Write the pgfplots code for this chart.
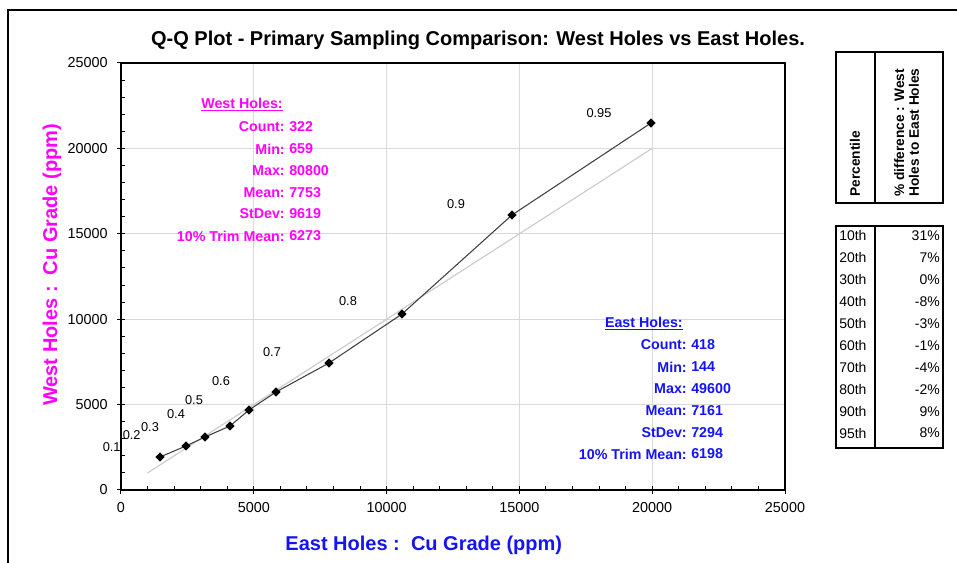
\documentclass[border=0pt]{standalone}
\usepackage{pgfplots}
\pgfplotsset{compat=1.18}
\usepackage{fontspec}
\setmainfont{Liberation Sans}
\definecolor{mag}{RGB}{255,0,255}
\definecolor{blu}{RGB}{20,20,245}
\definecolor{gridgray}{RGB}{217,217,217}
\definecolor{lineg}{RGB}{64,64,64}
\definecolor{oneone}{RGB}{205,205,205}
\newcommand{\statfont}{\fontsize{10.7}{12}\selectfont\bfseries}
\begin{document}
\begin{tikzpicture}
\begin{axis}[
  at={(0,0)}, anchor=south west,
  scale only axis, width=498pt, height=320.25pt,
  xmin=0, xmax=25000, ymin=0, ymax=25000,
  xtick={0,5000,...,25000}, ytick={0,5000,...,25000},
  xtick pos=bottom, ytick pos=left,
  minor tick num=4,
  scaled ticks=false,
  /pgf/number format/1000 sep={},
  /pgf/number format/assume math mode=true,
  tick label style={font=\fontsize{10.8}{13}\selectfont},
  xticklabel style={yshift=-3pt},
  yticklabel style={xshift=-3.5pt},
  grid=major, major grid style={gridgray, line width=0.75pt},
  axis line style={black, line width=0.9pt},
  tick style={black, line width=0.75pt},
  tick align=center, major tick length=6pt, minor tick length=3pt,
  minor x tick style={yshift=1.5pt}, minor y tick style={xshift=1.5pt},
  clip=false,
  title={Q-Q Plot - Primary Sampling Comparison: West Holes vs East Holes.},
  title style={at={(axis description cs:0.5377,1.0585)}, anchor=center, yshift=-7.5pt, font=\fontsize{15}{17}\selectfont\bfseries},
  xlabel={East Holes :\ \ Cu Grade (ppm)},
  xlabel style={at={(axis description cs:0.456,-0.1288)}, anchor=center, text=blu, font=\fontsize{15}{17}\selectfont\bfseries},
  ylabel={West Holes :\ \ Cu Grade (ppm)},
  ylabel style={at={(axis description cs:-0.1039,0.527)}, anchor=center, text=mag, font=\fontsize{15}{17}\selectfont\bfseries},
]
\addplot[oneone, line width=0.9pt] coordinates {(1000,1000) (20000,20000)};
\addplot[lineg, line width=0.8pt, mark=square*, mark size=2.1pt,
  mark options={rotate=45, fill=black, draw=black, solid}] coordinates {
  (1468,1932) (2447,2576) (3163,3103) (4104,3747) (4819,4684)
  (5836,5738) (7831,7436) (10580,10304) (14721,16101) (19955,21487)};
\addplot[draw=none, mark=none, nodes near coords, point meta=explicit symbolic,
  every node near coord/.append style={anchor=center, text=black, font=\fontsize{9.6}{11}\selectfont}]
  table[meta=lab] {
  x y lab
  -350 2535 0.1
  402 3220 0.2
  1092 3706 0.3
  2070 4450 0.4
  2748 5270 0.5
  3765 6382 0.6
  5685 8080 0.7
  8547 11066 0.8
  12613 16745 0.9
  17997 22073 0.95
};
\end{axis}
\begin{scope}[x=0.75pt, y=-0.75pt, shift={(-90.75pt,367.5pt)}]
  \draw[line width=1.6pt] (8,10) rectangle (1100,800);
  % West stats
  \node[anchor=east, inner sep=0, text=mag, font=\statfont] at (283,105) {\underline{West Holes:}};
  \foreach \yy/\aa/\bb in {127/Count:/322, 149/Min:/659, 171/Max:/80800, 193/Mean:/7753, 214/StDev:/9619, 236/{10\% Trim Mean:}/6273} {
    \node[anchor=east, inner sep=0, text=mag, font=\statfont] at (285,\yy) {\aa};
    \node[anchor=west, inner sep=0, text=mag, font=\statfont] at (289,\yy) {\bb};
  }
  % East stats
  \node[anchor=east, inner sep=0, text=blu, font=\statfont] at (683,324) {\underline{East Holes:}};
  \foreach \yy/\aa/\bb in {345/Count:/418, 367/Min:/144, 389/Max:/49600, 411/Mean:/7161, 433/StDev:/7294, 454/{10\% Trim Mean:}/6198} {
    \node[anchor=east, inner sep=0, text=blu, font=\statfont] at (687,\yy) {\aa};
    \node[anchor=west, inner sep=0, text=blu, font=\statfont] at (691,\yy) {\bb};
  }
  % Table header
  \draw[line width=0.9pt] (836,52) rectangle (943,203);
  \draw[line width=0.9pt] (875,52) -- (875,203);
  \node[rotate=90, anchor=west, inner sep=0, font=\fontsize{10.3}{11}\selectfont\bfseries] at (855,197) {Percentile};
  \node[rotate=90, anchor=west, inner sep=0, align=left, font=\fontsize{10.3}{11}\selectfont\bfseries] at (906.5,197) {\% difference : West\\Holes to East Holes};
  % Table body
  \draw[line width=0.9pt] (836,226) rectangle (943,448);
  \draw[line width=0.9pt] (875,226) -- (875,448);
  \foreach \i/\pp/\vv in {0/10th/31\%, 1/20th/7\%, 2/30th/0\%, 3/40th/-8\%, 4/50th/-3\%, 5/60th/-1\%, 6/70th/-4\%, 7/80th/-2\%, 8/90th/9\%, 9/95th/8\%} {
    \node[anchor=west, inner sep=0, font=\fontsize{10.5}{12}\selectfont] at (839,236+21.9*\i) {\pp};
    \node[anchor=east, inner sep=0, font=\fontsize{10.5}{12}\selectfont] at (940,236+21.9*\i) {\vv};
  }
  \pgfresetboundingbox
  \path[use as bounding box] (0,0) rectangle (957,563);
\end{scope}
\end{tikzpicture}
\end{document}
